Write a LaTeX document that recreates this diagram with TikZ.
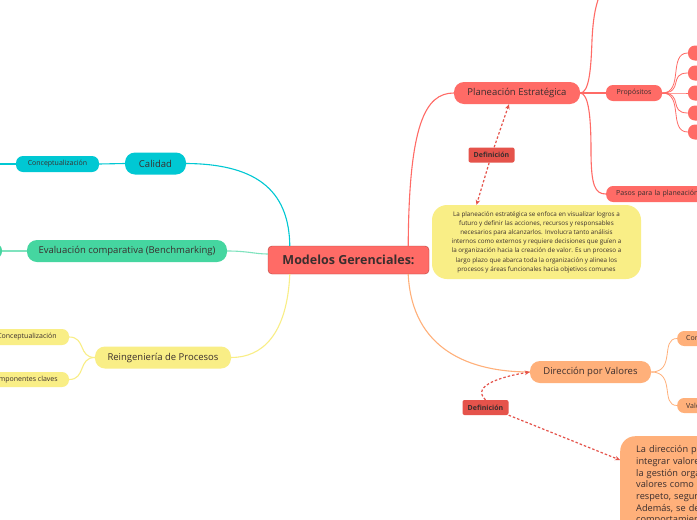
\documentclass[tikz,border=0pt]{standalone}
\usepackage{fontspec}
\setmainfont{Open Sans}
\usetikzlibrary{arrows.meta}
\definecolor{cred}{HTML}{FF6B66}
\definecolor{cdef}{HTML}{E5534B}
\definecolor{ccyan}{HTML}{00C8D3}
\definecolor{cgreen}{HTML}{45D6A0}
\definecolor{cgreenl}{HTML}{7FE3BE}
\definecolor{cyel}{HTML}{F9EE86}
\definecolor{corange}{HTML}{FFB07A}
\definecolor{ctxt}{HTML}{3A2E2E}
\begin{document}
\begin{tikzpicture}[x=1pt,y=-1pt,
  every node/.style={text=ctxt, inner sep=0pt, align=center},
  lvlone/.style={minimum height=22, rounded corners=10pt, font=\fontsize{9.5}{11}\selectfont},
  lvltwo/.style={minimum height=16, rounded corners=7pt, font=\fontsize{7}{8}\selectfont},
  defbox/.style={fill=cdef, minimum height=15, minimum width=46, rounded corners=2pt, font=\bfseries\fontsize{7}{8}\selectfont},
  edge/.style={line width=1.1pt},
  dasharrow/.style={draw=cdef, line width=1.2pt, dash pattern=on 2.5pt off 2pt, -{Stealth[length=5pt,width=4.5pt]}}
]
\useasboundingbox (0,0) rectangle (697,520);
\clip (0,0) rectangle (697,520);
\fill[white] (0,0) rectangle (697,520);

% central
\node[fill=cred, draw=cdef!80!black, line width=0.4pt, minimum width=161, minimum height=28, rounded corners=4pt, font=\bfseries\fontsize{12.5}{14}\selectfont] (mg) at (348.5,260) {Modelos Gerenciales:};

% left branches
\node[lvlone, fill=ccyan, minimum width=61] (cal) at (155.5,163.5) {Calidad};
\node[lvltwo, fill=ccyan, minimum width=83] (calc) at (57.5,164) {Conceptualización};
\coordinate (calx) at (-20,164);

\node[lvlone, fill=cgreen, minimum width=200] (eva) at (127,251) {Evaluación comparativa (Benchmarking)};
\node[lvltwo, fill=cgreen, minimum width=44, minimum height=15] (evac) at (-20,251) {};

\node[lvlone, fill=cyel, minimum width=136] (rei) at (163,357.5) {Reingeniería de Procesos};
\node[lvltwo, fill=cyel, minimum width=84] (reic) at (27,337) {Conceptualización};
\node[lvltwo, fill=cyel, minimum width=90, minimum height=15] (reik) at (24,379.5) {Componentes claves};

% right: planeacion
\node[lvlone, fill=cred, minimum width=126] (pe) at (517,93) {Planeación Estratégica};
\node[lvltwo, fill=cred, minimum width=56] (prop) at (634,93) {Propósitos};
\foreach \i/\yy in {1/53,2/73,3/93,4/113,5/132}{
  \node[lvltwo, fill=cred, minimum width=34, minimum height=15] (p\i) at (705,\yy) {};
}
\node[lvltwo, fill=cred, anchor=west, minimum width=160, text width=140, align=left] (pasos) at (606,194) {Pasos para la planeación estratégica};
\coordinate (ptop) at (599,-3);

\node[defbox] (defa) at (491.5,155) {Definición};
\node[fill=cyel, minimum width=209, minimum height=74, rounded corners=15pt, font=\fontsize{6.3}{9.2}\selectfont] (boxa) at (536.5,242) {La planeación estratégica se enfoca en visualizar logros a\\futuro y definir las acciones, recursos y responsables\\necesarios para alcanzarlos. Involucra tanto análisis\\internos como externos y requiere decisiones que guíen a\\la organización hacia la creación de valor. Es un proceso a\\largo plazo que abarca toda la organización y alinea los\\procesos y áreas funcionales hacia objetivos comunes};

% right: direccion
\node[lvlone, fill=corange, minimum width=121] (dv) at (590.5,372) {Dirección por Valores};
\node[lvltwo, fill=corange, anchor=west, minimum width=100, minimum height=15, text width=82, align=left] (co) at (677,338.5) {Conceptualización};
\node[lvltwo, fill=corange, anchor=west, minimum width=100, minimum height=15, text width=82, align=left] (val) at (677,405.5) {Valores};
\node[defbox] (defb) at (485.5,407.5) {Definición};
\node[fill=corange, anchor=north west, text width=160, inner sep=0pt, rounded corners=15pt, align=left, font=\fontsize{9.2}{11.7}\selectfont] (boxb) at (620,436) {\rule{0pt}{16.5pt}\hspace*{16pt}La dirección por valores busca\\\hspace*{16pt}integrar valores compartidos en\\\hspace*{16pt}la gestión organizacional, con\\\hspace*{16pt}valores como la confianza, el\\\hspace*{16pt}respeto, seguridad y ética.\\\hspace*{16pt}Además, se desarrolla en el\\\hspace*{16pt}comportamiento diario de todos\\\hspace*{16pt}los miembros};

% connectors
\draw[edge, draw=ccyan] (cal.east) .. controls (262,164) and (289,195) .. ([xshift=22pt]mg.north west);
\draw[edge, draw=ccyan] (calc.east) -- (cal.west);
\draw[edge, draw=ccyan] (calx) -- (calc.west);
\draw[edge, draw=cgreenl] (eva.east) .. controls (248,251) and (255,254) .. ([yshift=6pt]mg.west);
\draw[edge, draw=cgreenl] (evac.east) -- (eva.west);
\draw[edge, draw=cyel] ([xshift=22pt]mg.south west) .. controls (287,335) and (262,357.5) .. (rei.east);
\draw[edge, draw=cyel] (rei.west) .. controls (78,357.5) and (86,337) .. (reic.east);
\draw[edge, draw=cyel] (rei.west) .. controls (78,357.5) and (86,379.5) .. (reik.east);

\draw[edge, draw=cred] ([xshift=-21pt]mg.north east) .. controls (409,125) and (425,93) .. (pe.west);
\draw[edge, draw=cred] (pe.east) -- (prop.west);
\draw[edge, draw=cred] (pe.east) .. controls (589,93) and (591,120) .. (591,150) .. controls (591,186) and (595,194) .. (pasos.west);
\draw[edge, draw=cred] (pe.east) .. controls (589,93) and (591,70) .. (592,40) .. controls (593,20) and (595,8) .. (ptop);
\foreach \i/\yy in {1/53,2/73,3/93,4/113,5/132}{
  \draw[edge, draw=cred, line width=0.8pt] (prop.east) .. controls (684,93) and (668,\yy) .. (p\i.west);
}
\draw[edge, draw=corange] ([xshift=-21pt]mg.south east) .. controls (412,350) and (470,372) .. (dv.west);
\draw[edge, draw=corange, line width=0.8pt] (dv.east) .. controls (676,372) and (660,338.5) .. (co.west);
\draw[edge, draw=corange, line width=0.8pt] (dv.east) .. controls (676,372) and (660,405.5) .. (val.west);

\draw[dasharrow] (defa) -- ([xshift=-8pt]pe.south);
\draw[dasharrow] (defa) -- ([xshift=-60pt]boxa.north);
\draw[dasharrow] (defb.north) .. controls (470,385) and (505,376) .. (dv.west);
\draw[dasharrow] (defb.south east) -- ([yshift=-24pt]boxb.north west);
\end{tikzpicture}
\end{document}
